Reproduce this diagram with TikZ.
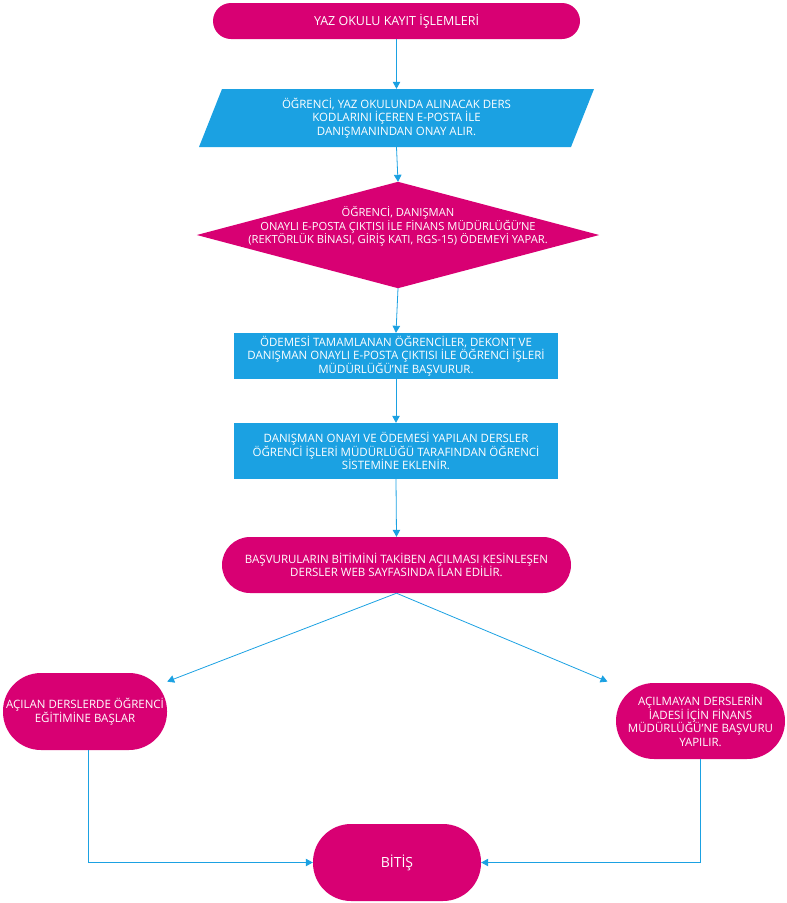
\documentclass[tikz,border=0pt]{standalone}
\usepackage{fontspec}
\setmainfont{Open Sans}
\usetikzlibrary{arrows.meta,calc,backgrounds}
\definecolor{mag}{HTML}{D80073}
\definecolor{blu}{HTML}{1BA1E2}
\begin{document}
\begin{tikzpicture}[x=1pt,y=-1pt,
  base/.style={inner sep=0pt, text=white, align=center, font=\fontsize{11.5}{13.5}\selectfont},
  pill/.style={base, fill=mag, rounded corners=#1},
  blubox/.style={base, fill=blu},
  ghost/.style={base, draw=none, fill=none},
  arr/.style={draw=blu, line width=0.8pt, -{Triangle[length=7pt,width=7.5pt]}}
]
\useasboundingbox (0,0) rectangle (787,903);

\node[pill=18, minimum width=367, minimum height=36, font=\fontsize{12.5}{14}\selectfont] (s) at (396.5,21) {YAZ OKULU KAYIT İŞLEMLERİ};

\node[ghost, minimum width=372, minimum height=58] (p) at (396.5,118)
  {ÖĞRENCİ, YAZ OKULUNDA ALINACAK DERS\\KODLARINI İÇEREN E-POSTA İLE\\DANIŞMANINDAN ONAY ALIR.};
\begin{scope}[on background layer]
  \fill[blu] ($(p.center)+(-197.5,29)$) -- ($(p.center)+(174.5,29)$) -- ($(p.center)+(197.5,-29)$) -- ($(p.center)+(-174.5,-29)$) -- cycle;
\end{scope}

\node[ghost, minimum width=402, minimum height=106] (d) at (398,235) {};
\begin{scope}[on background layer]
  \fill[mag] (d.north) -- (d.east) -- (d.south) -- (d.west) -- cycle;
\end{scope}
\node[base, font=\fontsize{11.2}{13.5}\selectfont] (dt) at (398,226.5) {ÖĞRENCİ, DANIŞMAN\\ONAYLI E-POSTA ÇIKTISI İLE FİNANS MÜDÜRLÜĞÜ'NE\\(REKTÖRLÜK BİNASI, GİRİŞ KATI, RGS-15) ÖDEMEYİ YAPAR.};

\node[blubox, minimum width=324, minimum height=46] (r1) at (396,356)
  {ÖDEMESİ TAMAMLANAN ÖĞRENCİLER, DEKONT VE\\DANIŞMAN ONAYLI E-POSTA ÇIKTISI İLE ÖĞRENCİ İŞLERİ\\MÜDÜRLÜĞÜ'NE BAŞVURUR.};

\node[blubox, minimum width=324, minimum height=56] (r2) at (396,451)
  {DANIŞMAN ONAYI VE ÖDEMESİ YAPILAN DERSLER\\ÖĞRENCİ İŞLERİ MÜDÜRLÜĞÜ TARAFINDAN ÖĞRENCİ\\SİSTEMİNE EKLENİR.};

\node[pill=28, minimum width=349, minimum height=56] (m) at (396.5,565)
  {BAŞVURULARIN BİTİMİNİ TAKİBEN AÇILMASI KESİNLEŞEN\\DERSLER WEB SAYFASINDA İLAN EDİLİR.};

\node[pill=38, minimum width=164, minimum height=77] (l) at (85,711.5)
  {AÇILAN DERSLERDE ÖĞRENCİ\\EĞİTİMİNE BAŞLAR};

\node[pill=38, minimum width=169, minimum height=76] (r) at (700.5,721)
  {AÇILMAYAN DERSLERİN\\İADESİ İÇİN FİNANS\\MÜDÜRLÜĞÜ'NE BAŞVURU\\YAPILIR.};

\node[pill=38, minimum width=168, minimum height=77, font=\fontsize{14}{16}\selectfont] (e) at (397,862.5) {BİTİŞ};

\draw[arr] (s.south) -- (p.north);
\draw[arr] (p.south) -- (d.north);
\draw[arr] (d.south) -- (r1.north);
\draw[arr] (r1.south) -- (r2.north);
\draw[arr] (r2.south) -- (m.north);
\draw[arr] (m.south) -- (l.20);
\draw[arr, shorten >=9pt] (m.south) -- (r.157);
\draw[arr] ([xshift=3]l.south) |- (e.west);
\draw[arr] (r.south) |- (e.east);
\end{tikzpicture}
\end{document}
